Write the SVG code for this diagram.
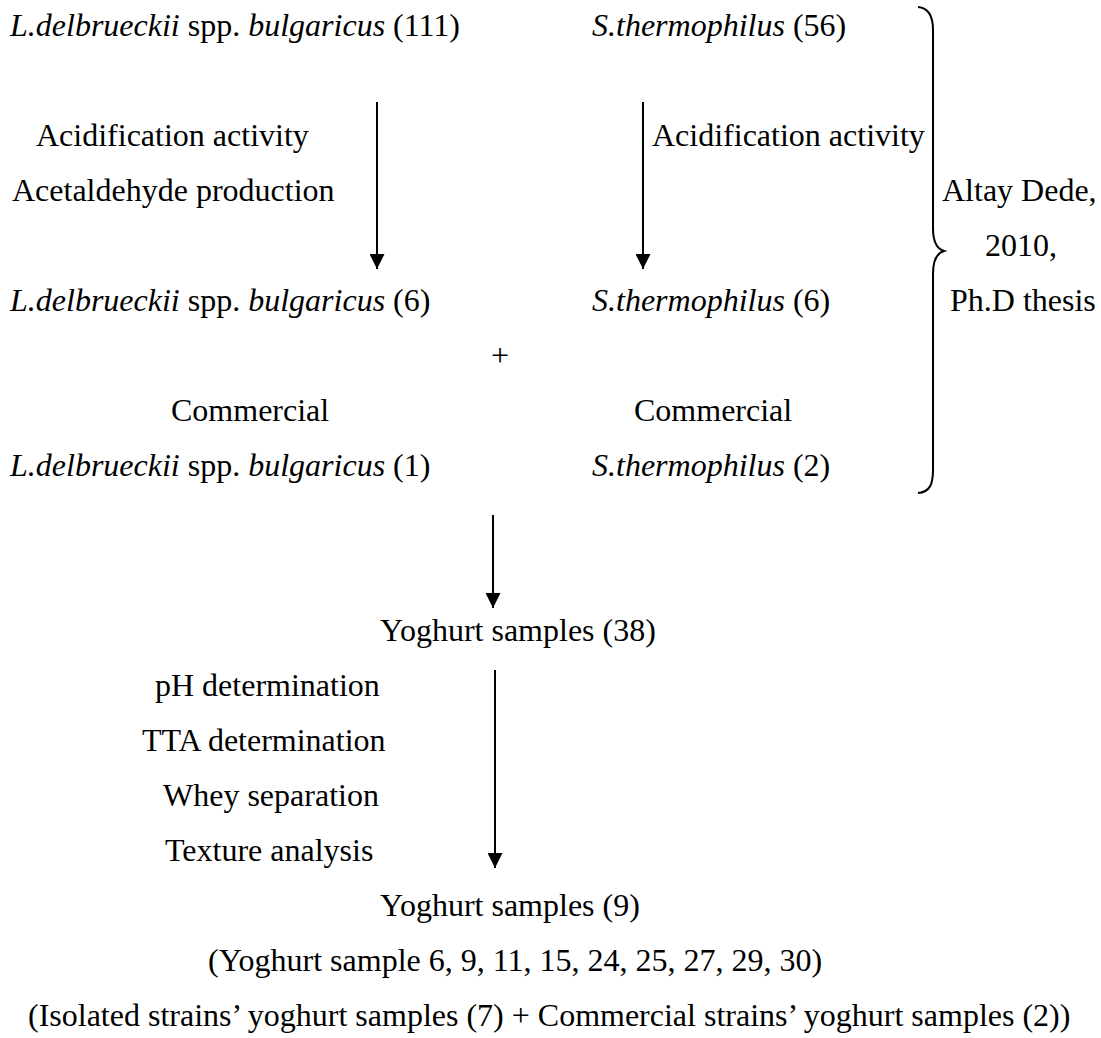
<svg xmlns="http://www.w3.org/2000/svg" width="1101" height="1038" viewBox="0 0 1101 1038">
  <style>
    text { font-family: "Liberation Serif", "Times New Roman", serif; font-size: 32px; fill: #000; }
    .it { font-style: italic; }
    .conn { stroke: #000; stroke-width: 2; fill: none; }
  </style>
  <defs>
    <marker id="arrowhead" viewBox="0 0 16 16" refX="16" refY="8" markerWidth="16" markerHeight="15" markerUnits="userSpaceOnUse" orient="auto">
      <path d="M0,0 L16,8 L0,16 z" fill="#000"/>
    </marker>
  </defs>
  <rect width="1101" height="1038" fill="#fff"/>

  <!-- isolated strain pools -->
  <g id="lb-isolates">
    <text x="10" y="36"><tspan class="it">L.delbrueckii</tspan> spp. <tspan class="it">bulgaricus</tspan> (111)</text>
  </g>
  <g id="st-isolates">
    <text x="592" y="36"><tspan class="it">S.thermophilus</tspan> (56)</text>
  </g>

  <!-- screening criteria -->
  <g id="lb-criteria">
    <text x="36" y="146">Acidification activity</text>
    <text x="12" y="201">Acetaldehyde production</text>
  </g>
  <g id="st-criteria">
    <text x="652" y="146">Acidification activity</text>
  </g>

  <!-- reference note beside brace -->
  <g id="reference">
    <path class="conn" d="M918,7 C930,8 933,18 933,30 L933,228 C933,242 937,249 944,251 C937,253 933,260 933,274 L933,470 C933,484 930,492 918,493"/>
    <text x="942" y="201">Altay Dede,</text>
    <text x="985" y="256">2010,</text>
    <text x="950" y="311">Ph.D thesis</text>
  </g>

  <!-- selected strains -->
  <g id="lb-selected">
    <text x="10" y="311"><tspan class="it">L.delbrueckii</tspan> spp. <tspan class="it">bulgaricus</tspan> (6)</text>
  </g>
  <g id="st-selected">
    <text x="592" y="311"><tspan class="it">S.thermophilus</tspan> (6)</text>
  </g>
  <g id="plus">
    <text x="500" y="366" text-anchor="middle">+</text>
  </g>

  <!-- commercial strains -->
  <g id="lb-commercial">
    <text x="171" y="421">Commercial</text>
    <text x="10" y="476"><tspan class="it">L.delbrueckii</tspan> spp. <tspan class="it">bulgaricus</tspan> (1)</text>
  </g>
  <g id="st-commercial">
    <text x="634" y="421">Commercial</text>
    <text x="592" y="476"><tspan class="it">S.thermophilus</tspan> (2)</text>
  </g>

  <!-- yoghurt production -->
  <g id="yoghurt-38">
    <text x="380" y="641">Yoghurt samples (38)</text>
  </g>
  <g id="yoghurt-tests">
    <text x="155" y="696">pH determination</text>
    <text x="142" y="751">TTA determination</text>
    <text x="163" y="806">Whey separation</text>
    <text x="165" y="861">Texture analysis</text>
  </g>
  <g id="yoghurt-9">
    <text x="380" y="916">Yoghurt samples (9)</text>
    <text x="208" y="971">(Yoghurt sample 6, 9, 11, 15, 24, 25, 27, 29, 30)</text>
    <text x="28" y="1026">(Isolated strains’ yoghurt samples (7) + Commercial strains’ yoghurt samples (2))</text>
  </g>

  <!-- connectors -->
  <g id="connectors">
    <line class="conn" x1="377" y1="102" x2="377" y2="269" marker-end="url(#arrowhead)"/>
    <line class="conn" x1="643" y1="102" x2="643" y2="269" marker-end="url(#arrowhead)"/>
    <line class="conn" x1="493" y1="515" x2="493" y2="608" marker-end="url(#arrowhead)"/>
    <line class="conn" x1="495" y1="670" x2="495" y2="868" marker-end="url(#arrowhead)"/>
  </g>
</svg>
